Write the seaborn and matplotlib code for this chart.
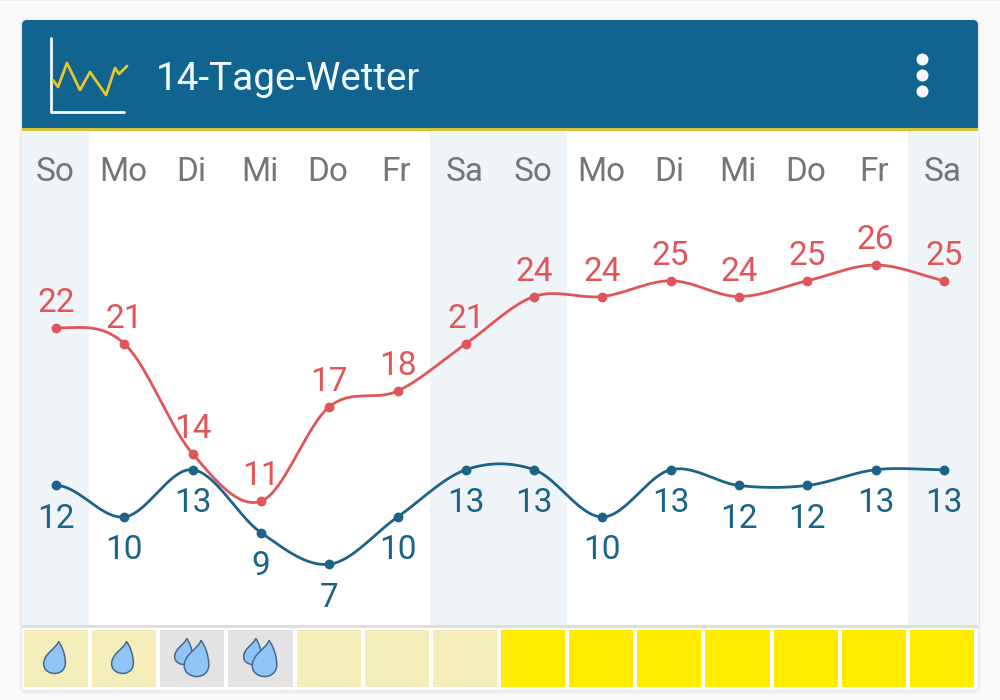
"""
14-Tage-Wetter card: daily max / min temperature with rain tiles
"""

import numpy as np
import pandas as pd
import seaborn as sns
import matplotlib.pyplot as plt
from matplotlib.colors import ListedColormap
from matplotlib.patches import FancyBboxPatch, Rectangle
from matplotlib.path import Path

sns.set_theme(style="white")
plt.rcParams["font.family"] = ["Roboto", "DejaVu Sans"]

# DATA
DAYS = ["So", "Mo", "Di", "Mi", "Do", "Fr", "Sa", "So", "Mo", "Di", "Mi", "Do", "Fr", "Sa"]
T_MAX = [22, 21, 14, 11, 17, 18, 21, 24, 24, 25, 24, 25, 26, 25]
T_MIN = [12, 10, 13, 9, 7, 10, 13, 13, 10, 13, 12, 12, 13, 13]
# 0 = pale sun, 1 = grey, 2 = full sun
TILE_CLASS = [0, 0, 1, 1, 0, 0, 0, 2, 2, 2, 2, 2, 2, 2]
RAIN_DROPS = [1, 1, 2, 2, 0, 0, 0, 0, 0, 0, 0, 0, 0, 0]
TITLE = "14-Tage-Wetter"

# COLOURS
BG = "#FAFAFA"
HEADER = "#10648F"
GOLD = "#D8C437"
WEEKEND = "#EFF4F8"
RED = "#E0555A"
BLUE = "#1C6387"
GREY = "#757575"
TILE_COLORS = ["#F5EDB9", "#E3E3E3", "#FFEC00"]

W, H = 1000, 700
CARD = (22, 20, 978, 690)


def px_axes(fig, left, top, right, bottom, **kw):
    return fig.add_axes(
        [left / W, 1 - bottom / H, (right - left) / W, (bottom - top) / H], **kw
    )


def smooth(values, n=40):
    # cardinal spline through the daily values
    y = np.asarray(values, dtype=float)
    m = np.zeros_like(y)
    m[1:-1] = (y[2:] - y[:-2]) / 2
    m[-1] = y[-1] - y[-2]
    xs, ys = [], []
    for i in range(len(y) - 1):
        t = np.linspace(0, 1, n)
        h00 = 2 * t**3 - 3 * t**2 + 1
        h10 = t**3 - 2 * t**2 + t
        h01 = -2 * t**3 + 3 * t**2
        h11 = t**3 - t**2
        xs.append(i + t)
        ys.append(h00 * y[i] + h10 * m[i] + h01 * y[i + 1] + h11 * m[i + 1])
    return pd.DataFrame({"x": np.concatenate(xs), "y": np.concatenate(ys)})


def draw_series(ax, values, color, offset_pts):
    sns.lineplot(data=smooth(values), x="x", y="y", color=color, lw=2, ax=ax,
                 estimator=None, sort=False, zorder=3)
    days = pd.DataFrame({"x": range(len(values)), "y": values})
    sns.scatterplot(data=days, x="x", y="y", color=color, s=50, linewidth=0, ax=ax, zorder=4)
    for x, v in zip(days["x"], days["y"]):
        ax.annotate(str(v), (x, v), xytext=(0, offset_pts), textcoords="offset points",
                    ha="center", va="center", color=color, fontsize=24)


# rain drop marker, point on top
DROP = Path(
    [(0.25, 1.0), (0.1, 0.55), (-0.68, 0.25), (-0.68, -0.4), (-0.68, -0.8), (-0.3, -1.0),
     (0.0, -1.0), (0.38, -1.0), (0.68, -0.75), (0.68, -0.35), (0.68, 0.2), (0.45, 0.75), (0.25, 1.0)],
    [Path.MOVETO] + [Path.CURVE4] * 12,
)

fig = plt.figure(figsize=(W / 100, H / 100), dpi=100, facecolor=BG)

# card, header, icon
chrome = px_axes(fig, 0, 0, W, H, zorder=0)
chrome.set_xlim(0, W)
chrome.set_ylim(H, 0)
chrome.axis("off")
left, top, right, bottom = CARD
chrome.add_patch(Rectangle((0, -6), W, 6.5, color="#EDEDED", lw=0))
for grow, shade in [(3, "#F4F4F4"), (1.5, "#ECECEC")]:
    chrome.add_patch(FancyBboxPatch((left - grow, top - grow + 1), right - left + 2 * grow,
                                    bottom - top + 2 * grow,
                                    boxstyle="round,pad=0,rounding_size=6", color=shade, lw=0))
chrome.add_patch(FancyBboxPatch((left, top), right - left, bottom - top,
                                boxstyle="round,pad=0,rounding_size=5", color="white", lw=0))
chrome.add_patch(FancyBboxPatch((left, top), right - left, 40,
                                boxstyle="round,pad=0,rounding_size=5", color=HEADER, lw=0))
chrome.add_patch(Rectangle((left, 32), right - left, 96, color=HEADER, lw=0))
chrome.add_patch(Rectangle((left, 128), right - left, 3, color=GOLD, lw=0))
chrome.add_patch(Rectangle((left, 625), right - left, 3, color="#DEDEDE", lw=0))

ICON_AXIS_X = [51, 51, 124]
ICON_AXIS_Y = [38, 111.5, 111.5]
ICON_LINE_X = [53, 58, 67, 80, 90, 106, 115, 119, 127]
ICON_LINE_Y = [80, 87, 63, 90, 72, 95, 68, 74, 66]
chrome.plot(ICON_AXIS_X, ICON_AXIS_Y, color="#F4FAFC", lw=2)
chrome.plot(ICON_LINE_X, ICON_LINE_Y, color="#E3C72E", lw=2)
chrome.text(156, 80, TITLE, color="#F4FAFC", fontsize=27.8, va="center", ha="left")
for dot_y in [59, 75, 91]:
    chrome.scatter([922], [dot_y], s=75, color="#F4FAFC", linewidth=0)

# temperature chart
ax = px_axes(fig, left, 131, right, 625, zorder=1)
ax.patch.set_alpha(0)
for i, day in enumerate(DAYS):
    if day in ("Sa", "So"):
        ax.axvspan(i - 0.52, i + 0.48, color=WEEKEND, lw=0, zorder=0)
    ax.annotate(day, (i, 0.917), xycoords=ax.get_xaxis_transform(), xytext=(-1, 0),
                textcoords="offset points", ha="center", va="center",
                color=GREY, fontsize=24)
draw_series(ax, T_MAX, RED, 18)
draw_series(ax, T_MIN, BLUE, -24)
ax.set_xlim(-0.5, 13.5)
ax.set_ylim(3.14, 34.51)
ax.axis("off")

# rain / sun tiles
tiles = px_axes(fig, left, 628, 976, 689, zorder=1)
sns.heatmap(pd.DataFrame([TILE_CLASS]), ax=tiles, cmap=ListedColormap(TILE_COLORS),
            vmin=0, vmax=2, cbar=False, linewidths=1.5, linecolor="white",
            xticklabels=False, yticklabels=False)
for i, n in enumerate(RAIN_DROPS):
    drop_style = dict(marker=DROP, color="#90C4F6", edgecolor="#47688A", linewidth=1.1, zorder=5)
    if n == 1:
        tiles.scatter([i + 0.47], [0.47], s=530, **drop_style)
    elif n == 2:
        tiles.scatter([i + 0.37], [0.38], s=350, **drop_style)
        tiles.scatter([i + 0.55], [0.49], s=676, **drop_style)

fig.savefig("out.png", dpi=100, facecolor=BG)
